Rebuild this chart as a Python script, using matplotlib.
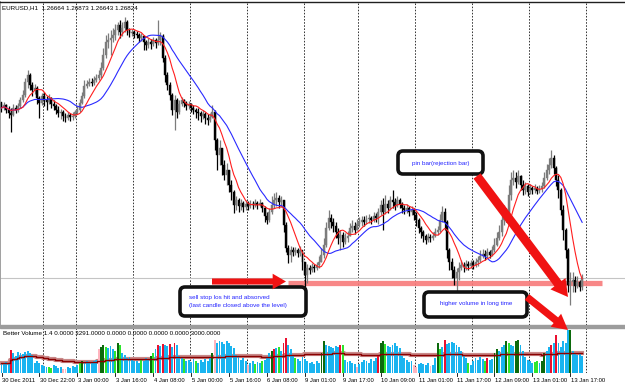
import numpy as np
import pandas as pd
import matplotlib
matplotlib.use("Agg")
import matplotlib.pyplot as plt
from matplotlib.patches import FancyBboxPatch, FancyArrowPatch

# ---------------- data (prices in pips, 1e-4) ----------------
first_open_pips = 12946
close_pips = [
    12937, 12941, 12934, 12929, 12926, 12937, 12934, 12940, 12949, 12956,
    12976, 12986, 12971, 12964, 12967, 12952, 12944, 12955, 12949, 12946,
    12952, 12943, 12940, 12934, 12929, 12931, 12925, 12922, 12926, 12923,
    12925, 12931, 12934, 12944, 12955, 12970, 12973, 12976, 12974, 12979,
    12982, 12986, 12997, 13016, 13036, 13039, 13042, 13046, 13054, 13061,
    13051, 13057, 13066, 13054, 13049, 13051, 13048, 13046, 13042, 13045,
    13036, 13031, 13036, 13033, 13039, 13034, 13039, 13045, 13012, 12986,
    12971, 12956, 12934, 12949, 12931, 12943, 12949, 12944, 12940, 12943,
    12937, 12934, 12931, 12929, 12925, 12928, 12922, 12919, 12923, 12931,
    12889, 12866, 12877, 12851, 12836, 12844, 12821, 12811, 12791, 12799,
    12790, 12794, 12788, 12793, 12790, 12793, 12791, 12794, 12791, 12794,
    12787, 12775, 12769, 12781, 12791, 12799, 12802, 12796, 12799, 12761,
    12727, 12716, 12724, 12721, 12724, 12719, 12724, 12706, 12686, 12697,
    12694, 12698, 12697, 12701, 12706, 12716, 12731, 12757, 12772, 12766,
    12760, 12751, 12742, 12746, 12736, 12742, 12745, 12757, 12760, 12754,
    12763, 12766, 12769, 12766, 12770, 12772, 12769, 12775, 12772, 12781,
    12791, 12781, 12793, 12787, 12799, 12796, 12790, 12799, 12793, 12787,
    12784, 12787, 12781, 12784, 12776, 12769, 12757, 12751, 12745, 12739,
    12743, 12742, 12745, 12751, 12754, 12769, 12781, 12766, 12724, 12706,
    12694, 12682, 12691, 12697, 12701, 12698, 12703, 12700, 12704, 12701,
    12706, 12709, 12715, 12718, 12715, 12721, 12716, 12724, 12731, 12742,
    12751, 12769, 12781, 12776, 12806, 12829, 12832, 12826, 12835, 12821,
    12814, 12820, 12811, 12817, 12814, 12817, 12812, 12815, 12820, 12832,
    12844, 12851, 12862, 12847, 12829, 12814, 12784, 12754, 12724, 12671,
    12676, 12679, 12670, 12676, 12668, 12682,
]
high_pips = [
    12944, 12946, 12943, 12940, 12937, 12943, 12941, 12944, 12953, 12964,
    12982, 12994, 12989, 12976, 12973, 12970, 12955, 12959, 12961, 12955,
    12958, 12953, 12949, 12943, 12940, 12935, 12934, 12929, 12931, 12929,
    12931, 12934, 12940, 12950, 12961, 12979, 12979, 12982, 12982, 12985,
    12988, 12994, 13006, 13027, 13046, 13049, 13054, 13057, 13063, 13066,
    13069, 13066, 13073, 13069, 13057, 13055, 13054, 13052, 13049, 13049,
    13045, 13039, 13042, 13040, 13043, 13042, 13069, 13051, 13048, 13016,
    12991, 12976, 12959, 12956, 12952, 12949, 12953, 12950, 12947, 12947,
    12944, 12941, 12937, 12937, 12932, 12934, 12931, 12928, 12929, 12941,
    12934, 12892, 12889, 12877, 12859, 12854, 12844, 12829, 12814, 12805,
    12802, 12800, 12797, 12799, 12797, 12799, 12797, 12800, 12797, 12800,
    12796, 12790, 12781, 12787, 12805, 12809, 12811, 12806, 12805, 12799,
    12766, 12731, 12730, 12728, 12728, 12727, 12730, 12721, 12706, 12703,
    12701, 12704, 12703, 12706, 12715, 12727, 12742, 12766, 12784, 12778,
    12772, 12766, 12757, 12754, 12751, 12749, 12752, 12764, 12769, 12766,
    12770, 12773, 12775, 12775, 12776, 12778, 12775, 12781, 12779, 12787,
    12799, 12802, 12806, 12799, 12805, 12814, 12802, 12805, 12802, 12796,
    12791, 12793, 12790, 12790, 12787, 12781, 12772, 12760, 12754, 12748,
    12749, 12748, 12751, 12757, 12760, 12778, 12790, 12787, 12769, 12727,
    12712, 12700, 12697, 12706, 12709, 12706, 12709, 12707, 12709, 12709,
    12712, 12715, 12724, 12725, 12724, 12727, 12724, 12730, 12742, 12751,
    12761, 12781, 12791, 12787, 12821, 12841, 12844, 12841, 12844, 12836,
    12829, 12826, 12823, 12823, 12820, 12823, 12820, 12821, 12826, 12841,
    12853, 12862, 12874, 12866, 12850, 12836, 12817, 12791, 12757, 12727,
    12691, 12691, 12685, 12685, 12679, 12688,
]
low_pips = [
    12931, 12934, 12929, 12922, 12901, 12925, 12929, 12931, 12937, 12946,
    12953, 12967, 12964, 12955, 12958, 12943, 12922, 12941, 12940, 12934,
    12943, 12937, 12934, 12928, 12923, 12920, 12917, 12916, 12919, 12917,
    12919, 12922, 12928, 12931, 12943, 12952, 12967, 12970, 12970, 12971,
    12976, 12979, 12982, 12994, 13012, 13027, 13016, 13036, 13039, 13046,
    13042, 13045, 13051, 13046, 13043, 13045, 13042, 13042, 13036, 13037,
    13024, 13024, 13027, 13025, 13030, 13027, 13031, 13031, 13006, 12976,
    12964, 12949, 12926, 12904, 12922, 12928, 12940, 12938, 12934, 12935,
    12931, 12928, 12922, 12919, 12916, 12920, 12913, 12911, 12916, 12922,
    12874, 12844, 12851, 12836, 12829, 12821, 12811, 12799, 12779, 12784,
    12781, 12784, 12781, 12784, 12784, 12787, 12785, 12788, 12785, 12790,
    12781, 12766, 12763, 12766, 12778, 12787, 12790, 12787, 12788, 12751,
    12721, 12704, 12706, 12715, 12716, 12713, 12715, 12694, 12668, 12674,
    12688, 12691, 12691, 12694, 12697, 12706, 12712, 12728, 12754, 12757,
    12751, 12742, 12733, 12724, 12728, 12733, 12736, 12745, 12751, 12748,
    12754, 12758, 12760, 12760, 12763, 12764, 12763, 12766, 12766, 12763,
    12776, 12754, 12778, 12779, 12784, 12787, 12784, 12788, 12787, 12779,
    12778, 12779, 12775, 12776, 12769, 12760, 12749, 12742, 12736, 12733,
    12736, 12736, 12739, 12743, 12746, 12751, 12766, 12754, 12712, 12694,
    12682, 12671, 12661, 12679, 12694, 12691, 12694, 12694, 12697, 12695,
    12698, 12700, 12706, 12712, 12709, 12712, 12712, 12715, 12721, 12730,
    12739, 12745, 12761, 12766, 12781, 12799, 12821, 12817, 12823, 12814,
    12806, 12808, 12805, 12808, 12808, 12809, 12808, 12809, 12811, 12817,
    12829, 12838, 12847, 12838, 12820, 12802, 12776, 12739, 12712, 12661,
    12641, 12661, 12661, 12667, 12662, 12664,
]
volume = [
    1000, 1000, 1100, 1000, 2300, 2000, 1700, 2100, 2000, 1900,
    2100, 2200, 2000, 1800, 1000, 1200, 1000, 800, 700, 600,
    600, 500, 800, 700, 500, 600, 400, 400, 600, 500,
    700, 600, 800, 1000, 1200, 1100, 1200, 1000, 1100, 1200,
    1300, 2400, 2600, 2800, 2600, 2500, 2700, 2400, 2200, 3000,
    2800, 2000, 1800, 1500, 1600, 1400, 1200, 1200, 1000, 1400,
    1200, 1500, 1400, 1700, 2000, 2400, 2800, 2700, 2900, 2800,
    2700, 2900, 2600, 3000, 2800, 1700, 1500, 1400, 1200, 1300,
    1100, 1400, 1200, 1000, 1300, 1100, 1400, 1200, 1500, 2000,
    3300, 3000, 3200, 3100, 2900, 3200, 3000, 2700, 2500, 1800,
    1600, 1300, 1500, 1200, 800, 1000, 1200, 900, 1100, 1000,
    1200, 1300, 1500, 2000, 2200, 2400, 2500, 2600, 2200, 3000,
    3500, 2800, 2400, 1700, 1500, 1400, 1200, 1600, 1400, 1200,
    1000, 1100, 900, 1200, 1000, 2000, 3200, 2800, 2700, 2600,
    2500, 2700, 2600, 2800, 2800, 1300, 1100, 1200, 1000, 900,
    600, 900, 1100, 1300, 1200, 1000, 1400, 1200, 1500, 1700,
    3000, 3200, 2900, 2700, 2600, 2800, 3000, 2700, 2500, 1700,
    1500, 1300, 1100, 1200, 800, 600, 900, 1000, 900, 800,
    1000, 700, 800, 1500, 3000, 2400, 2600, 3300, 2900, 3000,
    3100, 3000, 2800, 2600, 2200, 1800, 1500, 1000, 800, 1200,
    1500, 1300, 1600, 1400, 1200, 1500, 1300, 1400, 2000, 2400,
    2200, 2600, 2800, 3200, 3000, 2800, 2700, 3200, 3300, 2800,
    2200, 1600, 1300, 1200, 1000, 1100, 1200, 1000, 1200, 2000,
    2200, 2600, 2800, 3000, 3800, 3000, 2600, 3200, 3000, 4300,
    4300, 2200, 2000, 1800, 2000, 1700,
]
# b=normal, r=climax, g=low-vol churn, d=churn, p=low volume
vol_class = ("bbbbrbbbbb bbbbbbbbbb ggbbbbppbb bbbgdbbbbb bpddgbbbgd "
             "gbbbbbbbbg bbbdgbrbrb brbrbbbgbb bbgbbbbbbd pbbbbbbbbb "
             "bbbbpbbgbb gbbbdrbgbr rbbbgbbbbb bbbbbddbbb bbbrgbbbbb "
             "pbbbbbbbbr ddgbbbbbbb bbbbppbbbb bpbbdgbrbb bbbbbbbgbb "
             "bbbbgrbbdd bbbdgbbddb bbbbbggbdd bbrbrbbbbb dbbbbb").split()
label_bars = [0, 16, 32, 48, 64, 80, 96, 112, 128, 144, 160, 176, 192, 208, 224, 240]
time_labels = ["30 Dec 2011", "30 Dec 22:00", "3 Jan 00:00", "3 Jan 16:00", "4 Jan 08:00",
               "5 Jan 00:00", "5 Jan 16:00", "6 Jan 08:00", "9 Jan 01:00", "9 Jan 17:00",
               "10 Jan 09:00", "11 Jan 01:00", "11 Jan 17:00", "12 Jan 09:00",
               "13 Jan 01:00", "13 Jan 17:00"]
day_breaks = [17.5, 31.5, 55.5, 79.5, 103.5, 127.5, 150.5, 174.5, 198.5, 222.5, 246.5]
level_price = 1.26750
level_start_bar = 121
bid_price = 1.26824
header = "EURUSD,H1  1.26664 1.26873 1.26643 1.26824"
vol_header = "Better Volume 1.4 0.0000 3291.0000 0.0000 0.0000 0.0000 0.0000 3000.0000"

# ---------------- figure ----------------
W, H = 625, 386
plt.rcParams['font.family'] = ['Liberation Sans', 'DejaVu Sans']
fig = plt.figure(figsize=(W / 100, H / 100), dpi=100)
fig.patch.set_facecolor('white')

c = np.array(close_pips) / 1e4
h = np.array(high_pips) / 1e4
l = np.array(low_pips) / 1e4
o = np.r_[first_open_pips / 1e4, c[:-1]]
n = len(c)
idx = np.arange(n)
px_per_bar = 2.37
xl = (-1.5 / px_per_bar, (W - 1.5) / px_per_bar)

ax = fig.add_axes([0, (H - 325) / H, 1, (325 - 2) / H])
ax.set_xlim(*xl)
ax.set_ylim(1.26115, 1.30960)
for s in ['right', 'bottom']:
    ax.spines[s].set_visible(False)
ax.spines['top'].set_color('#202020')
ax.spines['top'].set_linewidth(1.0)
ax.spines['left'].set_color('#a0a0a0')
ax.spines['left'].set_linewidth(1.4)
ax.set_xticks([]); ax.set_yticks([])

for b in day_breaks:
    ax.axvline(b, color='#333333', lw=0.7, ls=(0, (1.6, 1.6)), zorder=1)

ax.axhline(bid_price, color='#c4c4c4', lw=0.8, zorder=1)
ax.hlines(level_price, level_start_bar, xl[1] - 9.5, color='#f87a7a', lw=3.8, alpha=0.9, zorder=2)

up = c >= o
col = np.where(up, '#7c7c7c', '#000000')
ax.vlines(idx, l, h, colors=col, lw=0.9, zorder=3)
ax.bar(idx, np.abs(c - o), bottom=np.minimum(o, c), width=0.82, color=col,
       edgecolor=col, lw=0.3, zorder=4)

cs = pd.Series(c)
red_ma = cs.rolling(8, min_periods=1).mean()
blue_ma = cs.rolling(20, min_periods=1).mean()
ax.plot(idx, blue_ma, color='#2a2aff', lw=0.8, zorder=5)
ax.plot(idx, red_ma, color='#ff1e1e', lw=0.8, zorder=5)

# ---------------- volume panel ----------------
vax = fig.add_axes([0, (H - 373) / H, 1, 45 / H])
vax.set_xlim(*xl)
vax.set_ylim(0, 4500)
vax.axis('off')
for b in day_breaks:
    vax.axvline(b, color='#333333', lw=0.7, ls=(0, (1.6, 1.6)), zorder=1)
cmap = {'b': '#19b4f0', 'r': '#ea1030', 'g': '#2ee62e', 'd': '#0c6a0c', 'p': '#ffb4be'}
vcols = [cmap[k] for k in "".join(vol_class)]
vma = pd.Series(volume).rolling(100, min_periods=1).mean()
vax.plot(idx, vma, color='#c98a8a', lw=3.0, zorder=1, drawstyle='steps-mid')
vax.bar(idx, volume, width=0.8, color=vcols, zorder=2)
vax.plot(idx, vma, color='#8a0000', lw=1.0, zorder=3, drawstyle='steps-mid')

# separator
fig.add_artist(plt.Rectangle((0, (H - 328) / H), 1, 3 / H, transform=fig.transFigure,
                             color='#9c9c9c', zorder=10))

# ---------------- overlay (annotations) ----------------
ov = fig.add_axes([0, 0, 1, 1], zorder=20)
ov.set_xlim(0, W); ov.set_ylim(H, 0); ov.axis('off'); ov.patch.set_alpha(0)

fs = 4.5
fs_t = 4.2
ov.text(2, 7.5, header, fontsize=fs, va='center', ha='left', color='black')
ov.text(3, 333.5, vol_header, fontsize=fs, va='center', ha='left', color='black')
for b, t in zip(label_bars, time_labels):
    x = 1.5 + px_per_bar * b
    ov.plot([x, x], [373, 376], color='black', lw=0.6)
    ov.text(x + 0.5, 380, t, fontsize=fs_t, va='center', ha='left', color='black')

def box(x0, y0, w, hgt):
    ov.add_patch(FancyBboxPatch((x0, y0), w, hgt, boxstyle='round,pad=0,rounding_size=5',
                                lw=2.6, ec='#111111', fc='white', zorder=21))

def arrow(p0, p1, tw=0.5, hw=1.2, hl=1.1):
    ov.add_patch(FancyArrowPatch(p0, p1, arrowstyle=f'simple,head_length={hl},head_width={hw},tail_width={tw}',
                                 mutation_scale=8, color='#f01212', lw=0, zorder=22,
                                 shrinkA=0, shrinkB=0))

tcol = '#2424ff'
box(398, 151, 85, 23)
ov.text(440.5, 163, "pin bar(rejection bar)", fontsize=fs, ha='center', va='center', color=tcol, zorder=23)
box(180, 287, 126, 29)
ov.text(189, 297.5, "sell stop los hit and absorved", fontsize=fs, ha='left', va='center', color=tcol, zorder=23)
ov.text(189, 305, "(last candle closed above the level)", fontsize=fs, ha='left', va='center', color=tcol, zorder=23)
box(424, 292, 103, 25)
ov.text(476, 304, "higher volume in long time", fontsize=fs, ha='center', va='center', color=tcol, zorder=23)

arrow((212, 281.5), (286, 281.5), tw=0.55, hw=1.4, hl=1.2)
arrow((477, 176), (568, 297), tw=0.8, hw=1.7, hl=1.5)
arrow((527, 297), (568, 330), tw=0.65, hw=1.5, hl=1.4)

fig.savefig('out.png', dpi=100, facecolor='white')
